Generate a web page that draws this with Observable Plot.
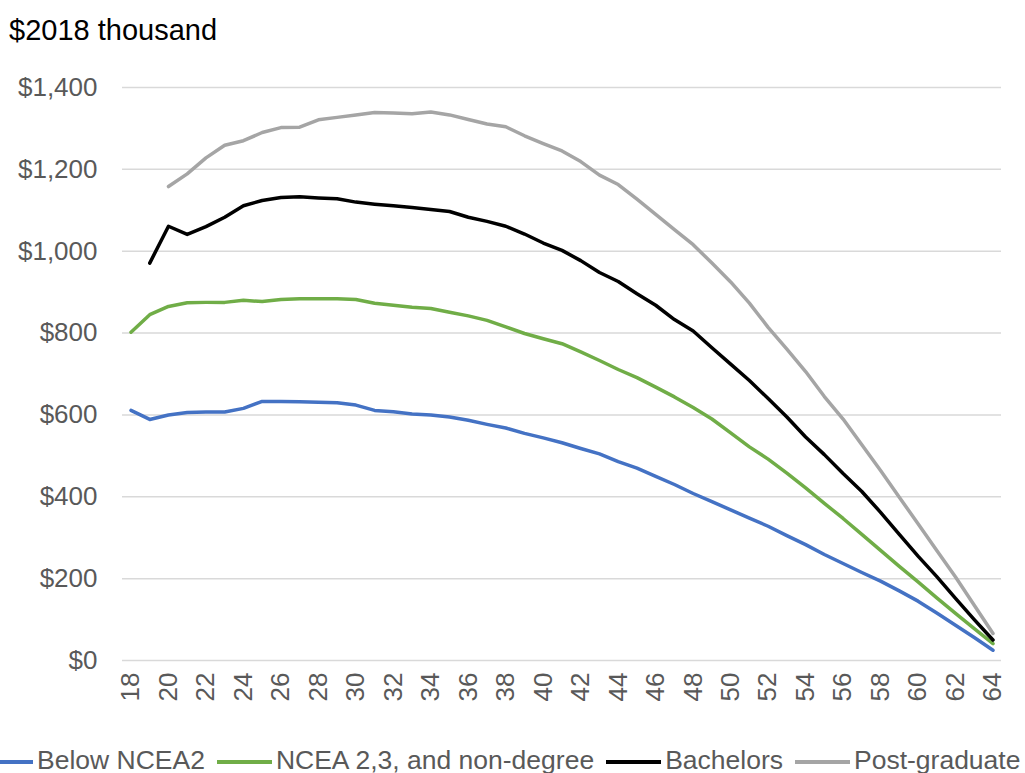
<!DOCTYPE html>
<html><head><meta charset="utf-8">
<script src="https://cdn.jsdelivr.net/npm/d3@7"></script>
<script src="https://cdn.jsdelivr.net/npm/@observablehq/plot@0.6"></script>
<style>
body{margin:0;background:#fff;font-family:"Liberation Sans",Arial,sans-serif;width:1025px;height:773px;overflow:hidden;position:relative}
#title{position:absolute;left:9px;top:16px;font-size:29px;line-height:1;color:#000;white-space:nowrap}
#chart{position:absolute;left:0;top:50px}
#legend{position:absolute;left:-22px;top:747px;display:flex;align-items:center;font-size:26.5px;line-height:1;color:#595959;white-space:nowrap}
.item{display:flex;align-items:center;margin-right:12px}
.sw{width:55px;height:4px;margin-right:4px;position:relative;top:2px}
</style></head><body>
<div id="title">$2018 thousand</div>
<div id="chart"></div>
<div id="legend"></div>
<script>
const ages = [18,19,20,21,22,23,24,25,26,27,28,29,30,31,32,33,34,35,36,37,38,39,40,41,42,43,44,45,46,47,48,49,50,51,52,53,54,55,56,57,58,59,60,61,62,63,64];

const seriesNames = ["Below NCEA2", "NCEA 2,3, and non-degree", "Bachelors", "Post-graduate"];
const seriesColors = ["#4472C4", "#70AD47", "#000000", "#A5A5A5"];

const belowNCEA2 = [611,589,600,606,607,607,616,633,633,632,631,630,624,611,608,602,600,595,587,577,568,555,544,532,518,505,486,470,450,430,408,388,368,348,328,305,283,259,237,215,194,170,145,116,86,56,25];
const ncea23 = [802,845,865,874,875,875,880,877,882,884,884,884,882,873,868,863,860,851,842,831,815,799,786,774,754,733,711,691,668,644,618,590,556,522,492,458,422,384,347,308,269,230,192,153,115,78,41];
const bachelors = [null,971,1061,1041,1060,1083,1111,1124,1131,1133,1130,1128,1120,1115,1111,1107,1102,1097,1083,1073,1061,1042,1020,1002,977,948,926,896,868,833,805,764,724,684,640,595,546,503,457,413,362,308,255,205,152,100,50];
const postGraduate = [null,null,1158,1189,1228,1259,1270,1290,1302,1303,1321,1327,1333,1339,1338,1336,1340,1333,1322,1311,1304,1282,1263,1245,1219,1186,1163,1127,1090,1053,1016,971,925,873,814,761,706,645,590,527,464,399,334,269,204,135,66];

const xTicks = [18,20,22,24,26,28,30,32,34,36,38,40,42,44,46,48,50,52,54,56,58,60,62,64];
const yTicks = [0,200,400,600,800,1000,1200,1400];

const seriesValues = [belowNCEA2, ncea23, bachelors, postGraduate];
const rows = [];
seriesValues.forEach((vals, si) => {
  vals.forEach((v, i) => {
    if (v != null) rows.push({series: seriesNames[si], age: ages[i], value: v});
  });
});

const plot = Plot.plot({
  width: 1025,
  height: 700,
  marginLeft: 122,
  marginRight: 24,
  marginTop: 37,
  marginBottom: 90,
  style: {fontFamily: "'Liberation Sans', Arial, sans-serif", fontSize: "26px", color: "#595959", background: "#fff", overflow: "visible"},
  x: {domain: [18, 64], inset: 8.5},
  y: {domain: [0, 1400]},
  color: {domain: seriesNames, range: seriesColors},
  marks: [
    Plot.gridY(yTicks, {stroke: "#d9d9d9", strokeOpacity: 1, strokeWidth: 1.5}),
    Plot.axisY(yTicks, {tickSize: 0, tickPadding: 25, label: null, fill: "#595959", fontSize: 26, tickFormat: d3.format("$,")}),
    Plot.axisX(xTicks, {tickSize: 0, tickPadding: 12, tickRotate: -90, label: null, fill: "#595959", fontSize: 26, tickFormat: d => String(d)}),
    Plot.line(rows, {x: "age", y: "value", z: "series", stroke: "series", strokeWidth: 3.5, strokeLinejoin: "round", strokeLinecap: "round"})
  ]
});
document.getElementById("chart").appendChild(plot);

const legend = document.getElementById("legend");
seriesNames.forEach((name, i) => {
  const item = document.createElement("div");
  item.className = "item";
  const sw = document.createElement("div");
  sw.className = "sw";
  sw.style.background = seriesColors[i];
  const label = document.createElement("span");
  label.textContent = name;
  item.appendChild(sw);
  item.appendChild(label);
  legend.appendChild(item);
});
</script>
</body></html>
